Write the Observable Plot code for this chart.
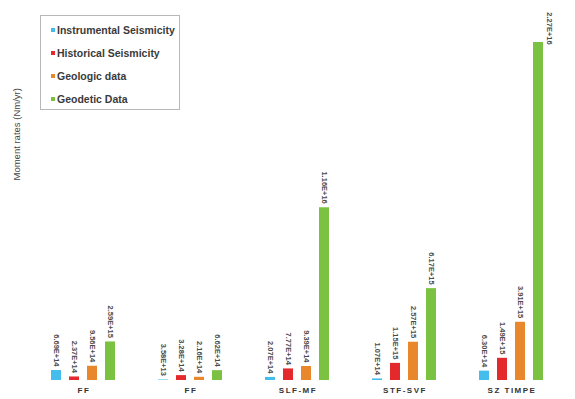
<!DOCTYPE html>
<html>
<head>
<meta charset="utf-8">
<script src="https://cdn.jsdelivr.net/npm/d3@7"></script>
<script src="https://cdn.jsdelivr.net/npm/@observablehq/plot@0.6"></script>
<style>
  body { margin: 0; background: #fff; font-family: "Liberation Sans", Arial, sans-serif; }
  #chart { position: relative; width: 575px; height: 399px; }
  #legend {
    position: absolute; left: 40px; top: 15px; width: 140px; height: 95px;
    border: 1px solid #b8b8b8; background: #fff; box-sizing: border-box;
  }
  #legend .row {
    position: absolute; left: 10px; height: 12px; display: flex; align-items: center;
    font: bold 10.5px "Liberation Sans", Arial, sans-serif; color: #3a3a3a; white-space: nowrap;
  }
  #legend .sw { width: 4px; height: 4px; margin-right: 2px; }
</style>
</head>
<body>
<div id="chart"><div id="legend"></div></div>
<script>
// Moment rates by region and data source
const regions = ["FF", "FF", "SLF-MF", "STF-SVF", "SZ TIMPE"];
const seriesNames = ["Instrumental Seismicity", "Historical Seismicity", "Geologic data", "Geodetic Data"];
const seriesColors = ["#45bdec", "#e3292c", "#e8872b", "#7cc242"];
const instrumental = [6.69e14, 3.58e13, 2.07e14, 1.07e14, 6.30e14];
const historical = [2.37e14, 3.28e14, 7.77e14, 1.15e15, 1.49e15];
const geologic = [9.56e14, 2.16e14, 9.39e14, 2.57e15, 3.91e15];
const geodetic = [2.59e15, 6.62e14, 1.16e16, 6.17e15, 2.27e16];

const seriesValues = [instrumental, historical, geologic, geodetic];
const rows = [];
regions.forEach((r, i) => {
  seriesNames.forEach((s, j) => {
    rows.push({g: i, series: s, value: seriesValues[j][i]});
  });
});
const maxValue = d3.max(rows, d => d.value);
const fmt = v => v.toExponential(2).toUpperCase();

const labelStyle = {
  fx: "g", x: "series", y: "value", text: d => fmt(d.value),
  rotate: 90, fontSize: 7.5, fontWeight: "bold", fill: "#4a4a4a",
  fontFamily: "'Liberation Sans', Arial, sans-serif"
};

const plot = Plot.plot({
  width: 575,
  height: 399,
  marginLeft: 30,
  marginRight: 10,
  marginTop: 42,
  marginBottom: 19,
  style: {background: "transparent", fontFamily: "'Liberation Sans', Arial, sans-serif"},
  fx: {
    domain: d3.range(regions.length), padding: 0, axis: "bottom", label: null,
    tickSize: 0, tickPadding: 7, tickFormat: i => regions[i]
  },
  x: {domain: seriesNames, axis: null, paddingInner: 0.44, paddingOuter: 1.19},
  y: {domain: [0, maxValue], axis: null},
  color: {domain: seriesNames, range: seriesColors},
  marks: [
    Plot.barY(rows, {fx: "g", x: "series", y: "value", fill: "series"}),
    Plot.text(rows.filter(d => d.value < maxValue), {...labelStyle, textAnchor: "end", dy: -4}),
    Plot.text(rows.filter(d => d.value === maxValue), {...labelStyle, textAnchor: "middle", dx: 11, dy: -14}),
    Plot.text(["Moment rates (Nm/yr)"], {
      fx: [0], text: d => d, frameAnchor: "left", rotate: -90, dx: -14, dy: -31,
      fontSize: 9.5, fill: "#444"
    })
  ]
});

d3.select(plot).selectAll("g[aria-label='fx-axis tick label'] text, g[aria-label='fx-axis tick label']")
  .style("font-weight", "bold").style("font-size", "8px").style("letter-spacing", "1.5px").attr("fill", "#333");

document.getElementById("chart").prepend(plot);
plot.style.position = "absolute";
plot.style.left = "0";
plot.style.top = "0";

// Legend box
const legend = document.getElementById("legend");
seriesNames.forEach((name, j) => {
  const row = document.createElement("div");
  row.className = "row";
  row.style.top = (8 + j * 23) + "px";
  const sw = document.createElement("span");
  sw.className = "sw";
  sw.style.background = seriesColors[j];
  row.appendChild(sw);
  row.appendChild(document.createTextNode(name));
  legend.appendChild(row);
});
</script>
</body>
</html>
